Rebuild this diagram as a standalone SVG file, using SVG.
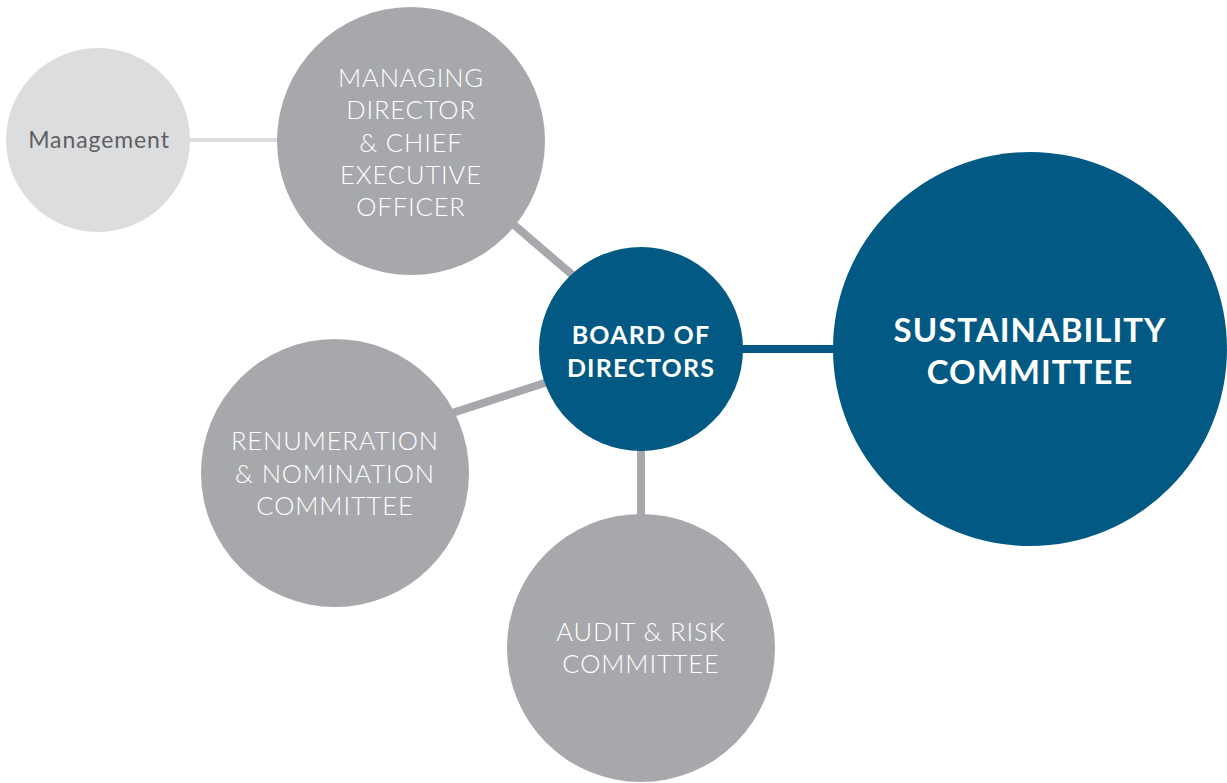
<svg xmlns="http://www.w3.org/2000/svg" width="1227" height="783" viewBox="0 0 1227 783">
<style>
.gray{fill:#a7a8ab}
.light{fill:#dcdddf}
.blue{fill:#025a84}
.lt{font-family:Lato,"Open Sans","Liberation Sans",sans-serif;font-weight:300;fill:#ffffff;text-anchor:middle;letter-spacing:0.9px}
.bt{font-family:Lato,"Open Sans","Liberation Sans",sans-serif;font-weight:700;fill:#ffffff;text-anchor:middle}
.con{stroke:#a7a8ab;stroke-width:8;fill:none}
</style>
<rect width="1227" height="783" fill="#ffffff"/>
<g id="connectors">
<line x1="180" y1="140" x2="290" y2="140" stroke="#dcdddf" stroke-width="4"/>
<line class="con" x1="500" y1="213" x2="590" y2="290"/>
<line class="con" x1="440" y1="417" x2="560" y2="378"/>
<line class="con" x1="641" y1="440" x2="641" y2="525"/>
<line x1="730" y1="349" x2="845" y2="349" stroke="#025a84" stroke-width="8"/>
</g>
<g id="management">
<circle class="light" cx="98" cy="140" r="92"/>
<text x="99" y="148" font-family="Lato,'Open Sans','Liberation Sans',sans-serif" font-size="23" letter-spacing="0.9" fill="#5f6063" text-anchor="middle">Management</text>
</g>
<g id="md-ceo">
<circle class="gray" cx="411" cy="141" r="134"/>
<text class="lt" font-size="25.5"><tspan x="411" y="87">MANAGING</tspan><tspan x="411" y="119">DIRECTOR</tspan><tspan x="411" y="152">&amp; CHIEF</tspan><tspan x="411" y="184">EXECUTIVE</tspan><tspan x="411" y="216">OFFICER</tspan></text>
</g>
<g id="renumeration">
<circle class="gray" cx="335" cy="473" r="134"/>
<text class="lt" font-size="25.5"><tspan x="335" y="450">RENUMERATION</tspan><tspan x="335" y="483">&amp; NOMINATION</tspan><tspan x="335" y="515">COMMITTEE</tspan></text>
</g>
<g id="audit">
<circle class="gray" cx="641" cy="648" r="134"/>
<text class="lt" font-size="25.5"><tspan x="641" y="641">AUDIT &amp; RISK</tspan><tspan x="641" y="673">COMMITTEE</tspan></text>
</g>
<g id="board">
<circle class="blue" cx="641" cy="349" r="102"/>
<text class="bt" font-size="25" letter-spacing="1.2"><tspan x="641" y="344">BOARD OF</tspan><tspan x="641" y="377">DIRECTORS</tspan></text>
</g>
<g id="sustainability">
<circle class="blue" cx="1030" cy="349" r="197"/>
<text class="bt" font-size="33" letter-spacing="1"><tspan x="1030" y="342">SUSTAINABILITY</tspan><tspan x="1030" y="384">COMMITTEE</tspan></text>
</g>
</svg>
